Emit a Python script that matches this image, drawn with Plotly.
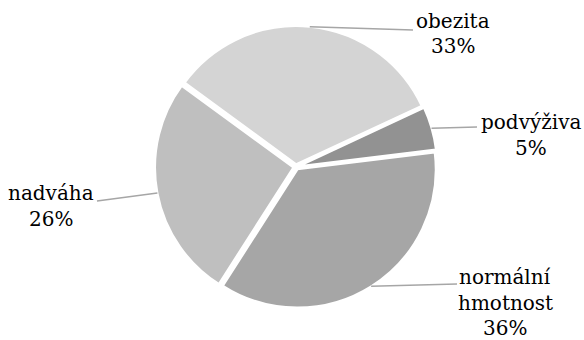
import math
import plotly.graph_objects as go

# Body-weight categories and their shares (percent)
categories = ["podvýživa", "normální hmotnost", "nadváha", "obezita"]
shares = [5, 36, 26, 33]
label_lines = [["podvýživa"], ["normální", "hmotnost"], ["nadváha"], ["obezita"]]
colors = ["#929292", "#a6a6a6", "#bfbfbf", "#d4d4d4"]

W, H = 584, 340
START = 65          # clockwise degrees from 12 o'clock where the first slice begins
PULL = 0.02
CX, CY, RAD = 296, 167, 141   # pie centre / outer extent in pixels

# label block placement (pixel centre x, first-line baseline y) and leader end point
label_style = {
    "podvýživa": dict(x=531, y=129, end=(477, 127)),
    "normální hmotnost": dict(x=505, y=284, end=(457, 284)),
    "nadváha": dict(x=51, y=200, end=(97, 201)),
    "obezita": dict(x=453, y=28, end=(413, 30)),
}
LINE_STEP = 25.5
FAMILY = "DejaVu Serif"
FONT_SIZE = 20

fig = go.Figure(
    go.Pie(
        labels=categories,
        values=shares,
        sort=False,
        direction="clockwise",
        rotation=START,
        pull=[PULL] * len(shares),
        marker=dict(colors=colors, line=dict(color="#ffffff", width=2)),
        textinfo="none",
        hoverinfo="label+percent",
        domain=dict(x=[(CX - RAD) / W, (CX + RAD) / W],
                    y=[1 - (CY + RAD) / H, 1 - (CY - RAD) / H]),
        showlegend=False,
    )
)

fig.update_layout(
    width=W, height=H,
    margin=dict(l=0, r=0, t=0, b=0),
    paper_bgcolor="#ffffff",
    plot_bgcolor="#ffffff",
)


def px_to_paper(x, y):
    return x / W, 1 - y / H


total = sum(shares)
angle = START
for name, val, lines in zip(categories, shares, label_lines):
    span = 360 * val / total
    mid = math.radians(angle + span / 2)
    angle += span
    # leader line from the slice rim to the label
    sx = CX + RAD * math.sin(mid)
    sy = CY - RAD * math.cos(mid)
    st = label_style[name]
    ex, ey = st["end"]
    x0, y0 = px_to_paper(sx, sy)
    x1, y1 = px_to_paper(ex, ey)
    fig.add_shape(type="line", xref="paper", yref="paper",
                  x0=x0, y0=y0, x1=x1, y1=y1,
                  line=dict(color="#a6a6a6", width=1.5))
    pct = round(100 * val / total)
    for i, txt in enumerate(lines + [f"{pct}%"]):
        tx, ty = px_to_paper(st["x"], st["y"] + i * LINE_STEP - 7)
        fig.add_annotation(x=tx, y=ty, xref="paper", yref="paper",
                           text=txt, showarrow=False,
                           font=dict(family=FAMILY, size=FONT_SIZE, color="#000000"),
                           xanchor="center", yanchor="middle")

fig.write_html("out.html")
